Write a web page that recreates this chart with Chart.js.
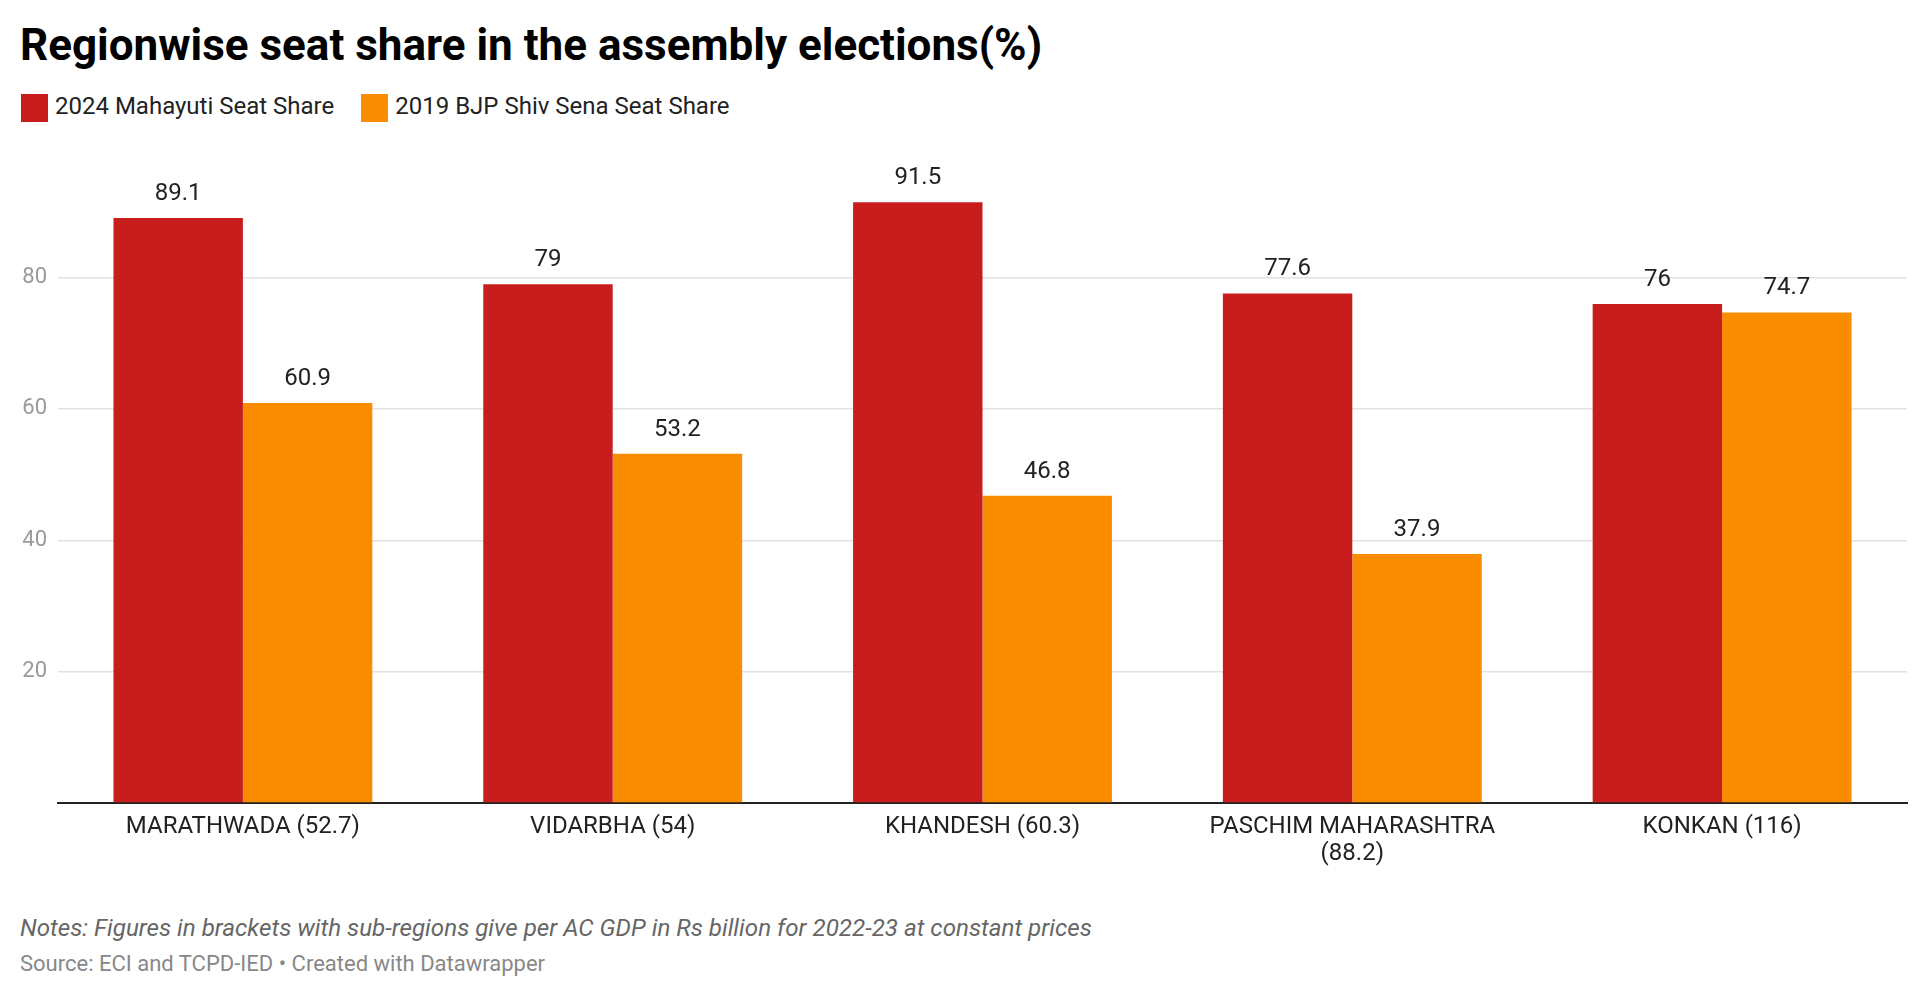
<!DOCTYPE html>
<html>
<head>
<meta charset="utf-8">
<script src="https://cdn.jsdelivr.net/npm/chart.js@4.4.1/dist/chart.umd.min.js"></script>
<style>
  body { margin: 0; background: #fff; font-family: Roboto, sans-serif; }
  .wrap { position: relative; width: 1928px; height: 1000px; }
  .t { position: absolute; left: 20px; line-height: 1; white-space: nowrap; }
  #title { top: 23px; font-size: 44px; font-weight: 700; color: #000; }
  #legend { top: 94px; left: 21px; font-size: 24px; color: #222; }
  .key { display: inline-block; vertical-align: top; }
  .sw { display: inline-block; width: 27px; height: 28px; vertical-align: top; margin-right: 7px; }
  .lt { display: inline-block; vertical-align: top; margin-top: 0px; margin-right: 27px; }
  #notes { top: 916px; font-size: 24.2px; font-style: italic; color: #666; }
  #source { top: 953px; font-size: 22px; color: #888; }
  #c { position: absolute; left: 0; top: 130px; }
</style>
</head>
<body>
<div class="wrap">
  <div class="t" id="title">Regionwise seat share in the assembly elections(%)</div>
  <div class="t" id="legend"></div>
  <canvas id="c" width="1928" height="760"></canvas>
  <div class="t" id="notes">Notes: Figures in brackets with sub-regions give per AC GDP in Rs billion for 2022-23 at constant prices</div>
  <div class="t" id="source">Source: ECI and TCPD-IED • Created with Datawrapper</div>
</div>
<script>
const regions = [
  ['MARATHWADA (52.7)'],
  ['VIDARBHA (54)'],
  ['KHANDESH (60.3)'],
  ['PASCHIM MAHARASHTRA', '(88.2)'],
  ['KONKAN (116)']
]
const share2024 = [89.1, 79, 91.5, 77.6, 76]
const share2019 = [60.9, 53.2, 46.8, 37.9, 74.7]
const seriesNames = ['2024 Mahayuti Seat Share', '2019 BJP Shiv Sena Seat Share']
const seriesColors = ['#c71e1d', '#fa8c00']
const yTicks = [20, 40, 60, 80]

// legend in html
const legendEl = document.getElementById('legend')
seriesNames.forEach(function(name, i) {
  const k = document.createElement('span')
  k.className = 'key'
  k.innerHTML = '<span class="sw" style="background:' + seriesColors[i] + '"></span><span class="lt">' + name + '</span>'
  legendEl.appendChild(k)
})

const valueLabels = {
  id: 'valueLabels',
  afterDatasetsDraw(chart) {
    const ctx = chart.ctx
    ctx.save()
    ctx.font = '24px Roboto'
    ctx.fillStyle = '#222'
    ctx.textAlign = 'center'
    ctx.textBaseline = 'middle'
    chart.data.datasets.forEach(function(ds, i) {
      chart.getDatasetMeta(i).data.forEach(function(bar, j) {
        ctx.fillText(String(ds.data[j]), bar.x, bar.y - 24)
      })
    })
    ctx.restore()
  }
}

const ctx = document.getElementById('c').getContext('2d')
const myChart = new Chart(ctx, {
  type: 'bar',
  data: {
    labels: regions,
    datasets: [
      { label: seriesNames[0], data: share2024, backgroundColor: seriesColors[0] },
      { label: seriesNames[1], data: share2019, backgroundColor: seriesColors[1] }
    ]
  },
  options: {
    responsive: false,
    animation: false,
    devicePixelRatio: 1,
    layout: { padding: { left: 0, right: 21, top: 10, bottom: 0 } },
    datasets: { bar: { categoryPercentage: 0.7, barPercentage: 1.0 } },
    plugins: {
      legend: { display: false },
      tooltip: { enabled: false }
    },
    scales: {
      x: {
        grid: { display: false, drawTicks: false },
        border: { display: true, color: '#222', width: 2 },
        ticks: {
          color: '#222',
          font: { family: 'Roboto', size: 24, lineHeight: 1.15 },
          padding: 10,
          maxRotation: 0,
          autoSkip: false
        },
        afterFit(scale) { scale.height = 87 }
      },
      y: {
        min: 0,
        max: 98.8,
        border: { display: false },
        grid: {
          drawTicks: false,
          lineWidth: 1.5,
          color: function(c) {
            return yTicks.includes(c.tick.value) ? '#e2e2e2' : 'rgba(0,0,0,0)'
          }
        },
        ticks: {
          stepSize: 20,
          padding: 11,
          color: '#9a9a9a',
          font: { family: 'Roboto', size: 22 },
          callback: function(v) { return yTicks.includes(v) ? v : '' }
        },
        afterFit(scale) { scale.width = 58 }
      }
    }
  },
  plugins: [valueLabels]
})
</script>
</body>
</html>
